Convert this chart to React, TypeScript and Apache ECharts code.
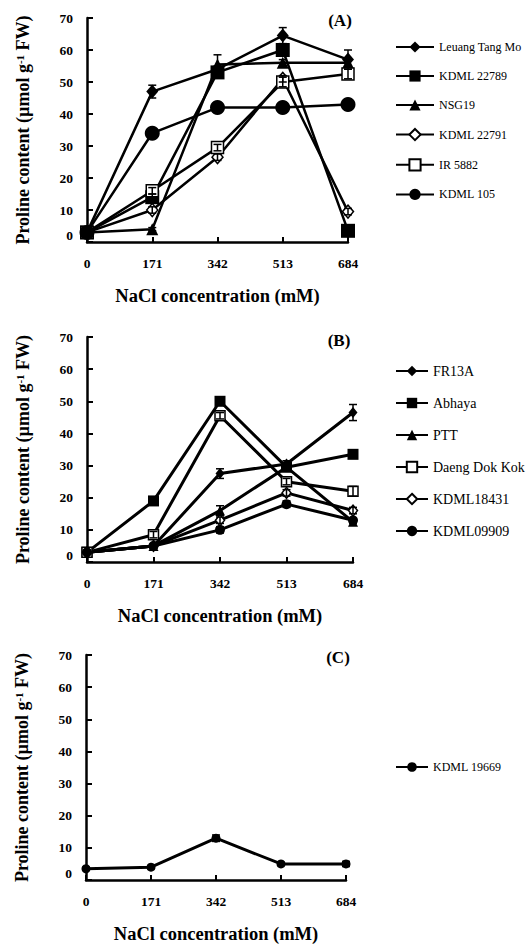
import React, { useEffect, useRef } from "react";
import * as echarts from "echarts";

// ---------- data ----------
const xValues = [0, 171, 342, 513, 684];
const yTicks = [0, 10, 20, 30, 40, 50, 60, 70];

// Panel A
const namesA = ["Leuang Tang Mo", "KDML 22789", "NSG19", "KDML 22791", "IR 5882", "KDML 105"];
const leuangTangMo = [3, 47, 54, 64.5, 57];
const kdml22789 = [3, 14, 53, 60, 3.5];
const nsg19 = [3, 4, 55.5, 56, 56];
const kdml22791 = [3, 10, 26.5, 51, 9.5];
const ir5882 = [3, 16, 29.5, 50, 52.5];
const kdml105 = [3, 34, 42, 42, 43];
const errLeuangTangMo = [0.5, 2, 1, 2.5, 3];
const errKdml22789 = [0.5, 1, 1, 1.5, 0.5];
const errNsg19 = [0.5, 0.5, 3, 1, 1];
const errKdml22791 = [0.5, 1, 1, 1, 1];
const errIr5882 = [0.5, 1, 1, 1.5, 1.5];
const errKdml105 = [0.5, 1, 1, 1, 1];

// Panel B
const namesB = ["FR13A", "Abhaya", "PTT", "Daeng Dok Kok", "KDML18431", "KDML09909"];
const fr13a = [3, 5, 27.5, 30.5, 46.5];
const abhaya = [3, 19, 50, 29.5, 33.5];
const ptt = [3, 5, 16, 29.5, 12.5];
const daengDokKok = [3, 8.5, 45.5, 25, 22];
const kdml18431 = [3, 5, 13, 21.5, 16];
const kdml09909 = [3, 5, 10, 18, 13];
const errFr13a = [0.5, 0.5, 1.5, 1, 2.5];
const errAbhaya = [0.5, 1, 1, 1, 1];
const errPtt = [0.5, 0.5, 1.5, 1, 0.5];
const errDaengDokKok = [0.5, 1, 1, 1, 1.5];
const errKdml18431 = [0.5, 0.5, 1, 1, 1];
const errKdml09909 = [0.5, 0.5, 1, 1, 0.5];

// Panel C
const namesC = ["KDML 19669"];
const kdml19669 = [3.5, 4, 13, 5, 5];
const errKdml19669 = [0.5, 0.5, 1, 0.5, 0.8];

// ---------- helpers ----------
const FONT = "Liberation Serif";

type Spec = {
  name: string;
  vals: number[];
  err: number[];
  symbol: string;
  size: number | number[];
  open: boolean;
};

function lineSeries(s: Spec, idx: number, lw: number) {
  return {
    type: "line",
    name: s.name,
    xAxisIndex: idx,
    yAxisIndex: idx,
    data: xValues.map((x, k) => [x, s.vals[k]]),
    symbol: s.symbol,
    symbolSize: s.size,
    showSymbol: true,
    lineStyle: { color: "#000", width: lw },
    itemStyle: {
      color: s.open ? "#fff" : "#000",
      borderColor: "#000",
      borderWidth: s.open ? 1.5 : 0,
    },
    emphasis: { disabled: true },
    silent: true,
    z: 2,
  };
}

function errSeries(s: Spec, idx: number) {
  return {
    type: "custom",
    name: s.name + " err",
    xAxisIndex: idx,
    yAxisIndex: idx,
    silent: true,
    z: 3,
    data: xValues.map((x, k) => [x, s.vals[k] - s.err[k], s.vals[k] + s.err[k]]),
    encode: { x: 0, y: [1, 2] },
    renderItem: (_p: any, api: any) => {
      const x = api.value(0);
      const lo = api.coord([x, api.value(1)]);
      const hi = api.coord([x, api.value(2)]);
      const cap = 4;
      const st = { stroke: "#000", lineWidth: 1.5 };
      return {
        type: "group",
        children: [
          { type: "line", shape: { x1: lo[0], y1: lo[1], x2: hi[0], y2: hi[1] }, style: st },
          { type: "line", shape: { x1: hi[0] - cap, y1: hi[1], x2: hi[0] + cap, y2: hi[1] }, style: st },
          { type: "line", shape: { x1: lo[0] - cap, y1: lo[1], x2: lo[0] + cap, y2: lo[1] }, style: st },
        ],
      };
    },
  };
}

const specsA: Spec[] = [
  { name: namesA[0], vals: leuangTangMo, err: errLeuangTangMo, symbol: "diamond", size: [12, 14], open: false },
  { name: namesA[1], vals: kdml22789, err: errKdml22789, symbol: "rect", size: 14, open: false },
  { name: namesA[2], vals: nsg19, err: errNsg19, symbol: "triangle", size: 12, open: false },
  { name: namesA[3], vals: kdml22791, err: errKdml22791, symbol: "diamond", size: [11, 13], open: true },
  { name: namesA[4], vals: ir5882, err: errIr5882, symbol: "rect", size: 12, open: true },
  { name: namesA[5], vals: kdml105, err: errKdml105, symbol: "circle", size: 15, open: false },
];

const specsB: Spec[] = [
  { name: namesB[0], vals: fr13a, err: errFr13a, symbol: "diamond", size: [9, 11], open: false },
  { name: namesB[1], vals: abhaya, err: errAbhaya, symbol: "rect", size: 11, open: false },
  { name: namesB[2], vals: ptt, err: errPtt, symbol: "triangle", size: 10, open: false },
  { name: namesB[3], vals: daengDokKok, err: errDaengDokKok, symbol: "rect", size: 10, open: true },
  { name: namesB[4], vals: kdml18431, err: errKdml18431, symbol: "diamond", size: [9, 11], open: true },
  { name: namesB[5], vals: kdml09909, err: errKdml09909, symbol: "circle", size: 10, open: false },
];

const specsC: Spec[] = [
  { name: namesC[0], vals: kdml19669, err: errKdml19669, symbol: "circle", size: 9, open: false },
];

const grids = [
  { left: 87, top: 18, width: 261, height: 224 },
  { left: 87, top: 337, width: 266, height: 225 },
  { left: 86, top: 655, width: 260, height: 225 },
];

function xAxis(idx: number) {
  return {
    type: "value",
    gridIndex: idx,
    min: 0,
    max: 684,
    interval: 171,
    name: "NaCl concentration (mM)",
    nameLocation: "middle",
    nameGap: 44,
    nameTextStyle: { fontFamily: FONT, fontSize: 18.5, fontWeight: "bold", color: "#000" },
    axisLine: { show: true, onZero: false, lineStyle: { color: "#000", width: 2.5 } },
    axisTick: { show: true, inside: true, length: 5, lineStyle: { color: "#000", width: 2 } },
    axisLabel: { fontFamily: FONT, fontSize: 13.5, fontWeight: "bold", color: "#000", margin: 14 },
    splitLine: { show: false },
  };
}

function yAxis(idx: number) {
  return {
    type: "value",
    gridIndex: idx,
    min: yTicks[0],
    max: yTicks[yTicks.length - 1],
    interval: 10,
    name: "Proline content (µmol g{sup|-1} FW)",
    nameLocation: "middle",
    nameGap: 55,
    nameRotate: 90,
    nameTextStyle: {
      fontFamily: FONT,
      fontSize: 18,
      fontWeight: "bold",
      color: "#000",
      rich: {
        sup: { fontFamily: FONT, fontSize: 11, fontWeight: "bold", color: "#000", verticalAlign: "top", lineHeight: 11 },
      },
    },
    axisLine: { show: true, lineStyle: { color: "#000", width: 2.5 } },
    axisTick: { show: true, inside: true, length: 6, lineStyle: { color: "#000", width: 2 } },
    axisLabel: {
      fontFamily: FONT,
      fontSize: 13.5,
      fontWeight: "bold",
      color: "#000",
      margin: 14,
      verticalAlignMinLabel: "bottom",
    },
    splitLine: { show: false },
  };
}

function legend(names: string[], top: number, itemWidth: number, itemHeight: number, gap: number, fontSize: number) {
  return {
    data: names,
    orient: "vertical",
    left: 390,
    top,
    padding: 5,
    itemWidth,
    itemHeight,
    itemGap: gap,
    selectedMode: false,
    textStyle: { fontFamily: FONT, fontSize, color: "#000" },
  };
}

function panelLabel(text: string, x: number, y: number) {
  return {
    type: "text",
    x,
    y,
    style: {
      text,
      fontFamily: FONT,
      fontSize: 17,
      fontWeight: "bold",
      fill: "#000",
      align: "center",
      verticalAlign: "middle",
    },
  };
}

export default function App() {
  const ref = useRef<HTMLDivElement>(null);
  useEffect(() => {
    if (!ref.current) return;
    const chart = echarts.init(ref.current, undefined, { renderer: "svg" });
    const series: any[] = [];
    specsA.forEach((s) => series.push(lineSeries(s, 0, 2.5)));
    specsB.forEach((s) => series.push(lineSeries(s, 1, 3)));
    specsC.forEach((s) => series.push(lineSeries(s, 2, 3)));
    specsA.forEach((s) => series.push(errSeries(s, 0)));
    specsB.forEach((s) => series.push(errSeries(s, 1)));
    specsC.forEach((s) => series.push(errSeries(s, 2)));

    chart.setOption({
      animation: false,
      backgroundColor: "#fff",
      textStyle: { fontFamily: FONT },
      grid: grids,
      xAxis: [xAxis(0), xAxis(1), xAxis(2)],
      yAxis: [yAxis(0), yAxis(1), yAxis(2)],
      legend: [
        legend(namesA, 36, 38, 14, 17, 12),
        legend(namesB, 359, 32, 13, 18, 14),
        legend(namesC, 756, 32, 12, 10, 12),
      ],
      graphic: [panelLabel("(A)", 340, 20), panelLabel("(B)", 339, 340), panelLabel("(C)", 338, 657)],
      series,
    });
    return () => chart.dispose();
  }, []);
  return (
    <div
      ref={ref}
      style={{ position: "absolute", left: 0, top: 0, width: 526, height: 945, background: "#fff" }}
    />
  );
}
